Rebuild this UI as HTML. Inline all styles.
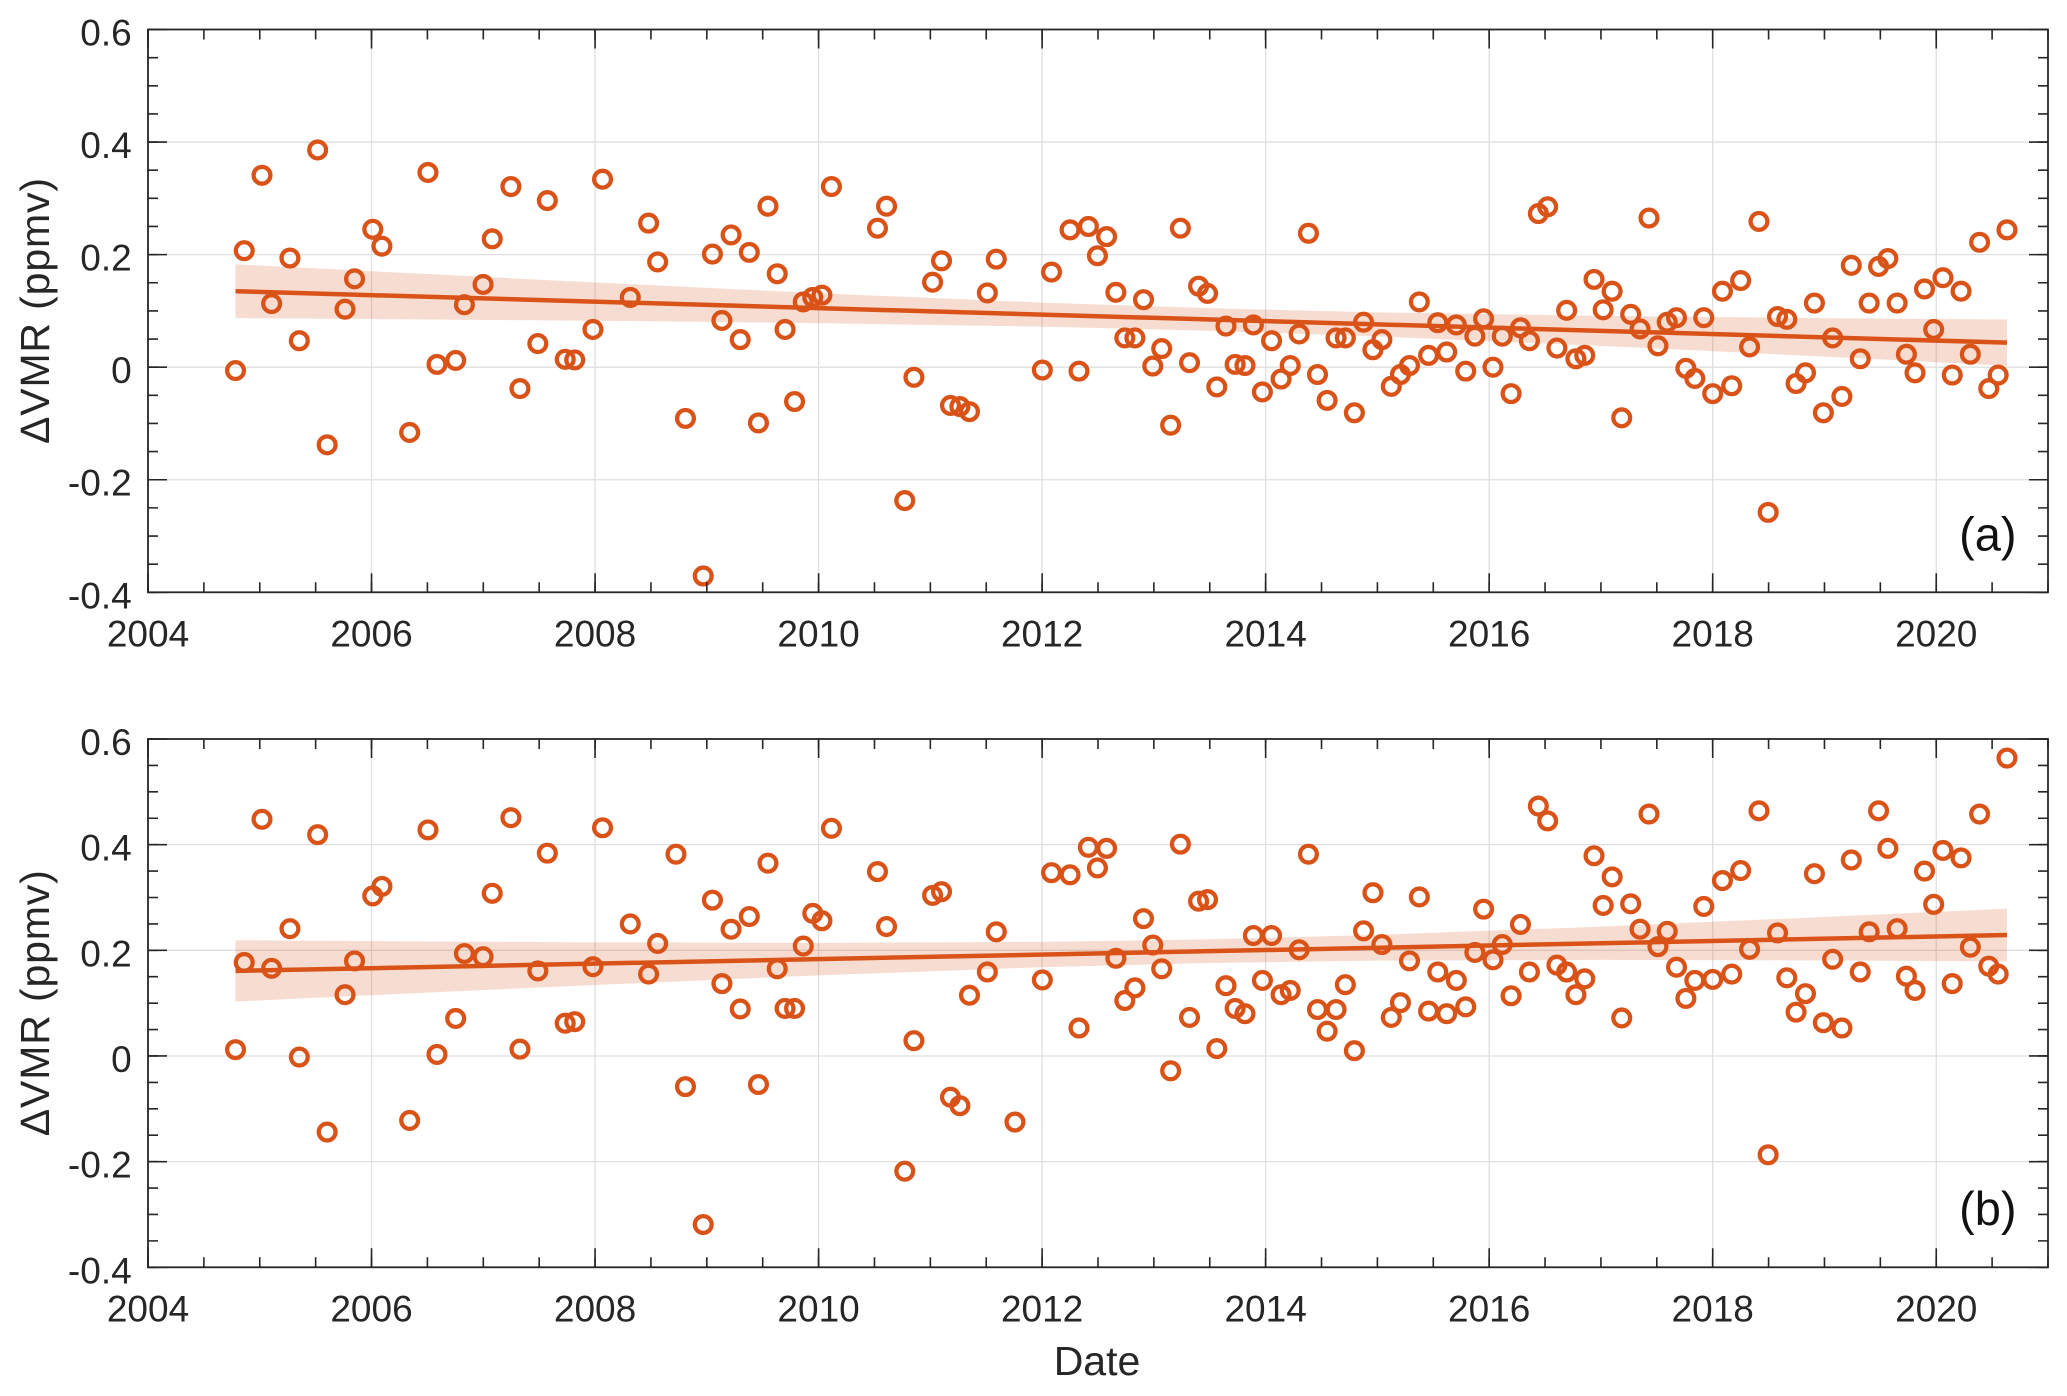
<!DOCTYPE html>
<html>
<head>
<meta charset="utf-8">
<style>
html,body{margin:0;padding:0;background:#fff;}
svg{display:block;}
text{font-family:"Liberation Sans",Arial,sans-serif;fill:#262626;}
</style>
</head>
<body>
<svg width="2067" height="1396" viewBox="0 0 2067 1396" xmlns="http://www.w3.org/2000/svg">
<rect x="0" y="0" width="2067" height="1396" fill="#fff"/>

<!-- ================= TOP PANEL ================= -->
<g stroke="#dfdfdf" stroke-width="1.3">
  <line x1="371.53" y1="29.5" x2="371.53" y2="592.3"/>
  <line x1="595.06" y1="29.5" x2="595.06" y2="592.3"/>
  <line x1="818.59" y1="29.5" x2="818.59" y2="592.3"/>
  <line x1="1042.12" y1="29.5" x2="1042.12" y2="592.3"/>
  <line x1="1265.65" y1="29.5" x2="1265.65" y2="592.3"/>
  <line x1="1489.18" y1="29.5" x2="1489.18" y2="592.3"/>
  <line x1="1712.71" y1="29.5" x2="1712.71" y2="592.3"/>
  <line x1="1936.24" y1="29.5" x2="1936.24" y2="592.3"/>
  <line x1="148" y1="142.06" x2="2048" y2="142.06"/>
  <line x1="148" y1="254.62" x2="2048" y2="254.62"/>
  <line x1="148" y1="367.18" x2="2048" y2="367.18"/>
  <line x1="148" y1="479.74" x2="2048" y2="479.74"/>
</g>

<polygon fill="#D95319" fill-opacity="0.2" points="235.51,264.22 371.53,271.24 595.06,282.52 818.59,293.21 1042.12,302.62 1207.53,308.18 1377.42,312.32 1600.95,315.85 1824.48,318.14 2006.98,319.55 2006.98,365.75 1824.48,356.55 1600.95,345.87 1377.42,336.41 1207.53,330.69 1042.12,326.63 818.59,323.07 595.06,320.76 371.53,319.06 235.51,318.18"/>
<line x1="235.51" y1="291.2" x2="2006.98" y2="342.65" stroke="#D95319" stroke-width="4.5"/>

<svg x="148" y="29.5" width="1117.65" height="562.8" overflow="visible">
<g fill="none" stroke="#D95319" stroke-width="4.3">
<circle r="8.4" cx="7.83%" cy="60.6%"/><circle r="8.4" cx="8.61%" cy="39.3%"/><circle r="8.4" cx="10.2%" cy="25.9%"/><circle r="8.4" cx="11.06%" cy="48.7%"/><circle r="8.4" cx="12.7%" cy="40.6%"/><circle r="8.4" cx="13.54%" cy="55.3%"/><circle r="8.4" cx="15.18%" cy="21.4%"/><circle r="8.4" cx="16.03%" cy="73.8%"/><circle r="8.4" cx="17.63%" cy="49.7%"/><circle r="8.4" cx="18.48%" cy="44.3%"/>
<circle r="8.4" cx="20.11%" cy="35.5%"/><circle r="8.4" cx="20.93%" cy="38.5%"/><circle r="8.4" cx="23.41%" cy="71.6%"/><circle r="8.4" cx="25.05%" cy="25.4%"/><circle r="8.4" cx="25.86%" cy="59.5%"/><circle r="8.4" cx="27.53%" cy="58.8%"/><circle r="8.4" cx="28.31%" cy="48.9%"/><circle r="8.4" cx="29.98%" cy="45.3%"/><circle r="8.4" cx="30.8%" cy="37.2%"/><circle r="8.4" cx="32.47%" cy="27.9%"/>
<circle r="8.4" cx="33.28%" cy="63.8%"/><circle r="8.4" cx="34.88%" cy="55.8%"/><circle r="8.4" cx="35.73%" cy="30.4%"/><circle r="8.4" cx="37.33%" cy="58.6%"/><circle r="8.4" cx="38.18%" cy="58.7%"/><circle r="8.4" cx="39.81%" cy="53.3%"/><circle r="8.4" cx="40.67%" cy="26.6%"/><circle r="8.4" cx="43.15%" cy="47.6%"/><circle r="8.4" cx="44.79%" cy="34.4%"/><circle r="8.4" cx="45.6%" cy="41.3%"/>
<circle r="8.4" cx="48.09%" cy="69.1%"/><circle r="8.4" cx="49.68%" cy="97.1%"/><circle r="8.4" cx="50.5%" cy="39.9%"/><circle r="8.4" cx="51.35%" cy="51.7%"/><circle r="8.4" cx="52.17%" cy="36.5%"/><circle r="8.4" cx="52.99%" cy="55.1%"/><circle r="8.4" cx="53.8%" cy="39.6%"/><circle r="8.4" cx="54.62%" cy="69.9%"/><circle r="8.4" cx="55.47%" cy="31.4%"/><circle r="8.4" cx="56.3%" cy="43.4%"/>
<circle r="8.4" cx="57.0%" cy="53.3%"/><circle r="8.4" cx="57.85%" cy="66.1%"/><circle r="8.4" cx="58.63%" cy="48.4%"/><circle r="8.4" cx="59.48%" cy="47.6%"/><circle r="8.4" cx="60.3%" cy="47.2%"/><circle r="8.4" cx="61.15%" cy="27.9%"/><circle r="8.4" cx="65.27%" cy="35.3%"/><circle r="8.4" cx="66.08%" cy="31.4%"/><circle r="8.4" cx="67.71%" cy="83.7%"/><circle r="8.4" cx="68.53%" cy="61.8%"/>
<circle r="8.4" cx="70.2%" cy="44.9%"/><circle r="8.4" cx="71.0%" cy="41.1%"/><circle r="8.4" cx="71.8%" cy="66.8%"/><circle r="8.4" cx="72.64%" cy="67.0%"/><circle r="8.4" cx="73.5%" cy="67.9%"/><circle r="8.4" cx="75.1%" cy="46.8%"/><circle r="8.4" cx="75.9%" cy="40.8%"/><circle r="8.4" cx="80.02%" cy="60.5%"/><circle r="8.4" cx="80.84%" cy="43.1%"/><circle r="8.4" cx="82.5%" cy="35.6%"/>
<circle r="8.4" cx="83.3%" cy="60.7%"/><circle r="8.4" cx="84.14%" cy="35.0%"/><circle r="8.4" cx="84.95%" cy="40.2%"/><circle r="8.4" cx="85.77%" cy="36.8%"/><circle r="8.4" cx="86.6%" cy="46.7%"/><circle r="8.4" cx="87.4%" cy="54.8%"/><circle r="8.4" cx="88.3%" cy="54.8%"/><circle r="8.4" cx="89.07%" cy="48.0%"/><circle r="8.4" cx="89.9%" cy="59.8%"/><circle r="8.4" cx="90.7%" cy="56.7%"/>
<circle r="8.4" cx="91.5%" cy="70.3%"/><circle r="8.4" cx="92.37%" cy="35.3%"/><circle r="8.4" cx="93.19%" cy="59.2%"/><circle r="8.4" cx="94.0%" cy="45.6%"/><circle r="8.4" cx="94.8%" cy="46.9%"/><circle r="8.4" cx="95.63%" cy="63.5%"/><circle r="8.4" cx="96.45%" cy="52.7%"/><circle r="8.4" cx="97.27%" cy="59.5%"/><circle r="8.4" cx="98.15%" cy="59.7%"/><circle r="8.4" cx="98.9%" cy="52.5%"/>
<circle r="8.4" cx="99.71%" cy="64.4%"/><circle r="8.4" cx="100.53%" cy="55.3%"/><circle r="8.4" cx="101.38%" cy="62.1%"/><circle r="8.4" cx="102.2%" cy="59.7%"/><circle r="8.4" cx="103.0%" cy="54.1%"/><circle r="8.4" cx="103.83%" cy="36.2%"/><circle r="8.4" cx="104.64%" cy="61.3%"/><circle r="8.4" cx="105.5%" cy="65.9%"/><circle r="8.4" cx="106.3%" cy="54.8%"/><circle r="8.4" cx="107.13%" cy="54.8%"/>
<circle r="8.4" cx="107.94%" cy="68.1%"/><circle r="8.4" cx="108.76%" cy="52.0%"/><circle r="8.4" cx="109.6%" cy="56.9%"/><circle r="8.4" cx="110.4%" cy="55.1%"/><circle r="8.4" cx="111.24%" cy="63.4%"/><circle r="8.4" cx="112.06%" cy="61.3%"/><circle r="8.4" cx="112.87%" cy="59.7%"/><circle r="8.4" cx="113.75%" cy="48.4%"/><circle r="8.4" cx="114.58%" cy="57.9%"/><circle r="8.4" cx="115.4%" cy="52.1%"/>
<circle r="8.4" cx="116.2%" cy="57.3%"/><circle r="8.4" cx="117.06%" cy="52.5%"/><circle r="8.4" cx="117.9%" cy="60.7%"/><circle r="8.4" cx="118.72%" cy="54.5%"/><circle r="8.4" cx="119.5%" cy="51.4%"/><circle r="8.4" cx="120.34%" cy="60.0%"/><circle r="8.4" cx="121.17%" cy="54.5%"/><circle r="8.4" cx="121.96%" cy="64.7%"/><circle r="8.4" cx="122.8%" cy="53.0%"/><circle r="8.4" cx="123.6%" cy="55.3%"/>
<circle r="8.4" cx="124.4%" cy="32.7%"/><circle r="8.4" cx="125.23%" cy="31.5%"/><circle r="8.4" cx="126.06%" cy="56.6%"/><circle r="8.4" cx="126.93%" cy="49.9%"/><circle r="8.4" cx="127.76%" cy="58.5%"/><circle r="8.4" cx="128.55%" cy="57.9%"/><circle r="8.4" cx="129.38%" cy="44.4%"/><circle r="8.4" cx="130.2%" cy="49.8%"/><circle r="8.4" cx="131.0%" cy="46.5%"/><circle r="8.4" cx="131.86%" cy="69.0%"/>
<circle r="8.4" cx="132.66%" cy="50.6%"/><circle r="8.4" cx="133.5%" cy="53.2%"/><circle r="8.4" cx="134.3%" cy="33.5%"/><circle r="8.4" cx="135.1%" cy="56.2%"/><circle r="8.4" cx="135.93%" cy="52.0%"/><circle r="8.4" cx="136.76%" cy="51.2%"/><circle r="8.4" cx="137.6%" cy="60.2%"/><circle r="8.4" cx="138.4%" cy="62.0%"/><circle r="8.4" cx="139.2%" cy="51.2%"/><circle r="8.4" cx="140.0%" cy="64.7%"/>
<circle r="8.4" cx="140.87%" cy="46.5%"/><circle r="8.4" cx="141.7%" cy="63.3%"/><circle r="8.4" cx="142.5%" cy="44.6%"/><circle r="8.4" cx="143.3%" cy="56.4%"/><circle r="8.4" cx="144.14%" cy="34.1%"/><circle r="8.4" cx="144.96%" cy="85.8%"/><circle r="8.4" cx="145.8%" cy="51.0%"/><circle r="8.4" cx="146.63%" cy="51.5%"/><circle r="8.4" cx="147.46%" cy="62.9%"/><circle r="8.4" cx="148.3%" cy="61.0%"/>
<circle r="8.4" cx="149.1%" cy="48.6%"/><circle r="8.4" cx="149.9%" cy="68.1%"/><circle r="8.4" cx="150.73%" cy="54.8%"/><circle r="8.4" cx="151.56%" cy="65.2%"/><circle r="8.4" cx="152.4%" cy="41.9%"/><circle r="8.4" cx="153.2%" cy="58.5%"/><circle r="8.4" cx="154.0%" cy="48.6%"/><circle r="8.4" cx="154.84%" cy="42.1%"/><circle r="8.4" cx="155.67%" cy="40.7%"/><circle r="8.4" cx="156.5%" cy="48.6%"/>
<circle r="8.4" cx="157.33%" cy="57.7%"/><circle r="8.4" cx="158.1%" cy="61.0%"/><circle r="8.4" cx="158.95%" cy="46.1%"/><circle r="8.4" cx="159.77%" cy="53.3%"/><circle r="8.4" cx="160.6%" cy="44.1%"/><circle r="8.4" cx="161.43%" cy="61.4%"/><circle r="8.4" cx="162.22%" cy="46.5%"/><circle r="8.4" cx="163.05%" cy="57.7%"/><circle r="8.4" cx="163.88%" cy="37.8%"/><circle r="8.4" cx="164.7%" cy="63.8%"/>
<circle r="8.4" cx="165.54%" cy="61.4%"/><circle r="8.4" cx="166.33%" cy="35.6%"/>
</g>
</svg>

<!-- top axes box & ticks -->
<g stroke="#262626" fill="none">
  <rect x="148" y="29.5" width="1900" height="562.8" stroke-width="1.8"/>
  <line x1="147.2" y1="587.3" x2="2049" y2="587.3" stroke-width="10" stroke-dasharray="1.6 54.282"/>
  <line x1="147.2" y1="582.8" x2="2049" y2="582.8" stroke-width="19" stroke-dasharray="1.6 221.93"/>
  <line x1="147.2" y1="34.5" x2="2049" y2="34.5" stroke-width="10" stroke-dasharray="1.6 54.282"/>
  <line x1="147.2" y1="39" x2="2049" y2="39" stroke-width="19" stroke-dasharray="1.6 221.93"/>
  <line x1="153" y1="28.7" x2="153" y2="594" stroke-width="10" stroke-dasharray="1.6 26.54"/>
  <line x1="157.5" y1="28.7" x2="157.5" y2="594" stroke-width="19" stroke-dasharray="1.6 110.96"/>
  <line x1="2043" y1="28.7" x2="2043" y2="594" stroke-width="10" stroke-dasharray="1.6 26.54"/>
  <line x1="2038.5" y1="28.7" x2="2038.5" y2="594" stroke-width="19" stroke-dasharray="1.6 110.96"/>
</g>

<g font-size="37" text-anchor="end">
  <text x="131.7" y="45.5">0.6</text>
  <text x="131.7" y="158.06">0.4</text>
  <text x="131.7" y="270.62">0.2</text>
  <text x="131.7" y="383.18">0</text>
  <text x="131.7" y="495.74">-0.2</text>
  <text x="131.7" y="608.3">-0.4</text>
</g>
<g font-size="37" text-anchor="middle">
  <text x="148" y="646.6">2004</text>
  <text x="371.53" y="646.6">2006</text>
  <text x="595.06" y="646.6">2008</text>
  <text x="818.59" y="646.6">2010</text>
  <text x="1042.12" y="646.6">2012</text>
  <text x="1265.65" y="646.6">2014</text>
  <text x="1489.18" y="646.6">2016</text>
  <text x="1712.71" y="646.6">2018</text>
  <text x="1936.24" y="646.6">2020</text>
</g>
<text x="49" y="311" font-size="41" text-anchor="middle" textLength="266" lengthAdjust="spacing" transform="rotate(-90 49 311)">ΔVMR (ppmv)</text>
<text x="2016.6" y="550.5" font-size="47" text-anchor="end" style="fill:#111">(a)</text>

<!-- ================= BOTTOM PANEL ================= -->
<g stroke="#dfdfdf" stroke-width="1.3">
  <line x1="371.53" y1="739" x2="371.53" y2="1267.3"/>
  <line x1="595.06" y1="739" x2="595.06" y2="1267.3"/>
  <line x1="818.59" y1="739" x2="818.59" y2="1267.3"/>
  <line x1="1042.12" y1="739" x2="1042.12" y2="1267.3"/>
  <line x1="1265.65" y1="739" x2="1265.65" y2="1267.3"/>
  <line x1="1489.18" y1="739" x2="1489.18" y2="1267.3"/>
  <line x1="1712.71" y1="739" x2="1712.71" y2="1267.3"/>
  <line x1="1936.24" y1="739" x2="1936.24" y2="1267.3"/>
  <line x1="148" y1="844.66" x2="2048" y2="844.66"/>
  <line x1="148" y1="950.32" x2="2048" y2="950.32"/>
  <line x1="148" y1="1055.98" x2="2048" y2="1055.98"/>
  <line x1="148" y1="1161.64" x2="2048" y2="1161.64"/>
</g>

<polygon fill="#D95319" fill-opacity="0.2" points="235.51,940.28 371.53,941.15 595.06,942.32 818.59,942.82 1042.12,941.87 1200.83,939.54 1377.42,934.87 1600.95,926.59 1824.48,916.95 2006.98,908.59 2006.98,961.40 1824.48,960.46 1600.95,959.88 1377.42,960.67 1200.83,963.16 1042.12,967.26 818.59,975.38 595.06,984.95 371.53,995.18 235.51,1001.57"/>
<line x1="235.51" y1="970.92" x2="2006.98" y2="935.0" stroke="#D95319" stroke-width="4.5"/>

<svg x="148" y="739" width="1117.65" height="528.3" overflow="visible">
<g fill="none" stroke="#D95319" stroke-width="4.3">
<circle r="8.4" cx="7.83%" cy="58.8%"/><circle r="8.4" cx="8.61%" cy="42.3%"/><circle r="8.4" cx="10.2%" cy="15.2%"/><circle r="8.4" cx="11.06%" cy="43.4%"/><circle r="8.4" cx="12.7%" cy="35.9%"/><circle r="8.4" cx="13.54%" cy="60.2%"/><circle r="8.4" cx="15.18%" cy="18.1%"/><circle r="8.4" cx="16.03%" cy="74.4%"/><circle r="8.4" cx="17.63%" cy="48.4%"/><circle r="8.4" cx="18.48%" cy="42.0%"/>
<circle r="8.4" cx="20.11%" cy="29.7%"/><circle r="8.4" cx="20.93%" cy="27.9%"/><circle r="8.4" cx="23.41%" cy="72.2%"/><circle r="8.4" cx="25.05%" cy="17.2%"/><circle r="8.4" cx="25.86%" cy="59.7%"/><circle r="8.4" cx="27.53%" cy="52.9%"/><circle r="8.4" cx="28.31%" cy="40.6%"/><circle r="8.4" cx="29.98%" cy="41.2%"/><circle r="8.4" cx="30.8%" cy="29.2%"/><circle r="8.4" cx="32.47%" cy="14.9%"/>
<circle r="8.4" cx="33.28%" cy="58.7%"/><circle r="8.4" cx="34.88%" cy="43.9%"/><circle r="8.4" cx="35.73%" cy="21.6%"/><circle r="8.4" cx="37.33%" cy="53.8%"/><circle r="8.4" cx="38.18%" cy="53.5%"/><circle r="8.4" cx="39.81%" cy="43.1%"/><circle r="8.4" cx="40.67%" cy="16.8%"/><circle r="8.4" cx="43.15%" cy="35.0%"/><circle r="8.4" cx="44.79%" cy="44.5%"/><circle r="8.4" cx="45.6%" cy="38.7%"/>
<circle r="8.4" cx="47.24%" cy="21.8%"/><circle r="8.4" cx="48.09%" cy="65.8%"/><circle r="8.4" cx="49.68%" cy="91.9%"/><circle r="8.4" cx="50.5%" cy="30.5%"/><circle r="8.4" cx="51.35%" cy="46.3%"/><circle r="8.4" cx="52.17%" cy="36.0%"/><circle r="8.4" cx="52.99%" cy="51.1%"/><circle r="8.4" cx="53.8%" cy="33.6%"/><circle r="8.4" cx="54.62%" cy="65.4%"/><circle r="8.4" cx="55.47%" cy="23.5%"/>
<circle r="8.4" cx="56.3%" cy="43.5%"/><circle r="8.4" cx="57.0%" cy="51.0%"/><circle r="8.4" cx="57.85%" cy="51.0%"/><circle r="8.4" cx="58.63%" cy="39.2%"/><circle r="8.4" cx="59.48%" cy="33.0%"/><circle r="8.4" cx="60.3%" cy="34.4%"/><circle r="8.4" cx="61.15%" cy="16.9%"/><circle r="8.4" cx="65.27%" cy="25.1%"/><circle r="8.4" cx="66.08%" cy="35.5%"/><circle r="8.4" cx="67.71%" cy="81.8%"/>
<circle r="8.4" cx="68.53%" cy="57.1%"/><circle r="8.4" cx="70.2%" cy="29.6%"/><circle r="8.4" cx="71.0%" cy="28.9%"/><circle r="8.4" cx="71.8%" cy="67.8%"/><circle r="8.4" cx="72.64%" cy="69.4%"/><circle r="8.4" cx="73.5%" cy="48.5%"/><circle r="8.4" cx="75.1%" cy="44.1%"/><circle r="8.4" cx="75.9%" cy="36.5%"/><circle r="8.4" cx="77.57%" cy="72.5%"/><circle r="8.4" cx="80.02%" cy="45.6%"/>
<circle r="8.4" cx="80.84%" cy="25.3%"/><circle r="8.4" cx="82.5%" cy="25.7%"/><circle r="8.4" cx="83.3%" cy="54.7%"/><circle r="8.4" cx="84.14%" cy="20.5%"/><circle r="8.4" cx="84.95%" cy="24.4%"/><circle r="8.4" cx="85.77%" cy="20.7%"/><circle r="8.4" cx="86.6%" cy="41.5%"/><circle r="8.4" cx="87.4%" cy="49.5%"/><circle r="8.4" cx="88.3%" cy="47.1%"/><circle r="8.4" cx="89.07%" cy="34.0%"/>
<circle r="8.4" cx="89.9%" cy="39.0%"/><circle r="8.4" cx="90.7%" cy="43.5%"/><circle r="8.4" cx="91.5%" cy="62.8%"/><circle r="8.4" cx="92.37%" cy="19.9%"/><circle r="8.4" cx="93.19%" cy="52.7%"/><circle r="8.4" cx="94.0%" cy="30.7%"/><circle r="8.4" cx="94.8%" cy="30.4%"/><circle r="8.4" cx="95.63%" cy="58.6%"/><circle r="8.4" cx="96.45%" cy="46.7%"/><circle r="8.4" cx="97.27%" cy="51.0%"/>
<circle r="8.4" cx="98.15%" cy="52.0%"/><circle r="8.4" cx="98.9%" cy="37.2%"/><circle r="8.4" cx="99.71%" cy="45.7%"/><circle r="8.4" cx="100.53%" cy="37.2%"/><circle r="8.4" cx="101.38%" cy="48.4%"/><circle r="8.4" cx="102.2%" cy="47.6%"/><circle r="8.4" cx="103.0%" cy="39.9%"/><circle r="8.4" cx="103.83%" cy="21.8%"/><circle r="8.4" cx="104.64%" cy="51.2%"/><circle r="8.4" cx="105.5%" cy="55.3%"/>
<circle r="8.4" cx="106.3%" cy="51.2%"/><circle r="8.4" cx="107.13%" cy="46.5%"/><circle r="8.4" cx="107.94%" cy="59.0%"/><circle r="8.4" cx="108.76%" cy="36.3%"/><circle r="8.4" cx="109.6%" cy="29.1%"/><circle r="8.4" cx="110.4%" cy="38.9%"/><circle r="8.4" cx="111.24%" cy="52.7%"/><circle r="8.4" cx="112.06%" cy="49.9%"/><circle r="8.4" cx="112.87%" cy="42.0%"/><circle r="8.4" cx="113.75%" cy="29.9%"/>
<circle r="8.4" cx="114.58%" cy="51.5%"/><circle r="8.4" cx="115.4%" cy="44.1%"/><circle r="8.4" cx="116.2%" cy="52.0%"/><circle r="8.4" cx="117.06%" cy="45.7%"/><circle r="8.4" cx="117.9%" cy="50.7%"/><circle r="8.4" cx="118.72%" cy="40.4%"/><circle r="8.4" cx="119.5%" cy="32.2%"/><circle r="8.4" cx="120.34%" cy="41.8%"/><circle r="8.4" cx="121.17%" cy="38.9%"/><circle r="8.4" cx="121.96%" cy="48.6%"/>
<circle r="8.4" cx="122.8%" cy="35.1%"/><circle r="8.4" cx="123.6%" cy="44.1%"/><circle r="8.4" cx="124.4%" cy="12.7%"/><circle r="8.4" cx="125.23%" cy="15.5%"/><circle r="8.4" cx="126.06%" cy="42.8%"/><circle r="8.4" cx="126.93%" cy="44.1%"/><circle r="8.4" cx="127.76%" cy="48.4%"/><circle r="8.4" cx="128.55%" cy="45.4%"/><circle r="8.4" cx="129.38%" cy="22.1%"/><circle r="8.4" cx="130.2%" cy="31.5%"/>
<circle r="8.4" cx="131.0%" cy="26.1%"/><circle r="8.4" cx="131.86%" cy="52.8%"/><circle r="8.4" cx="132.66%" cy="31.2%"/><circle r="8.4" cx="133.5%" cy="36.0%"/><circle r="8.4" cx="134.3%" cy="14.2%"/><circle r="8.4" cx="135.1%" cy="39.3%"/><circle r="8.4" cx="135.93%" cy="36.4%"/><circle r="8.4" cx="136.76%" cy="43.2%"/><circle r="8.4" cx="137.6%" cy="49.1%"/><circle r="8.4" cx="138.4%" cy="45.7%"/>
<circle r="8.4" cx="139.2%" cy="31.7%"/><circle r="8.4" cx="140.0%" cy="45.5%"/><circle r="8.4" cx="140.87%" cy="26.8%"/><circle r="8.4" cx="141.7%" cy="44.5%"/><circle r="8.4" cx="142.5%" cy="24.9%"/><circle r="8.4" cx="143.3%" cy="39.8%"/><circle r="8.4" cx="144.14%" cy="13.6%"/><circle r="8.4" cx="144.96%" cy="78.7%"/><circle r="8.4" cx="145.8%" cy="36.7%"/><circle r="8.4" cx="146.63%" cy="45.2%"/>
<circle r="8.4" cx="147.46%" cy="51.7%"/><circle r="8.4" cx="148.3%" cy="48.2%"/><circle r="8.4" cx="149.1%" cy="25.5%"/><circle r="8.4" cx="149.9%" cy="53.7%"/><circle r="8.4" cx="150.73%" cy="41.7%"/><circle r="8.4" cx="151.56%" cy="54.7%"/><circle r="8.4" cx="152.4%" cy="22.9%"/><circle r="8.4" cx="153.2%" cy="44.1%"/><circle r="8.4" cx="154.0%" cy="36.5%"/><circle r="8.4" cx="154.84%" cy="13.6%"/>
<circle r="8.4" cx="155.67%" cy="20.7%"/><circle r="8.4" cx="156.5%" cy="35.9%"/><circle r="8.4" cx="157.33%" cy="44.9%"/><circle r="8.4" cx="158.1%" cy="47.6%"/><circle r="8.4" cx="158.95%" cy="25.0%"/><circle r="8.4" cx="159.77%" cy="31.3%"/><circle r="8.4" cx="160.6%" cy="21.1%"/><circle r="8.4" cx="161.43%" cy="46.3%"/><circle r="8.4" cx="162.22%" cy="22.5%"/><circle r="8.4" cx="163.05%" cy="39.4%"/>
<circle r="8.4" cx="163.88%" cy="14.2%"/><circle r="8.4" cx="164.7%" cy="43.0%"/><circle r="8.4" cx="165.54%" cy="44.5%"/><circle r="8.4" cx="166.33%" cy="3.6%"/>
</g>
</svg>

<!-- bottom axes box & ticks -->
<g stroke="#262626" fill="none">
  <rect x="148" y="739" width="1900" height="528.3" stroke-width="1.8"/>
  <line x1="147.2" y1="1262.3" x2="2049" y2="1262.3" stroke-width="10" stroke-dasharray="1.6 54.282"/>
  <line x1="147.2" y1="1257.8" x2="2049" y2="1257.8" stroke-width="19" stroke-dasharray="1.6 221.93"/>
  <line x1="147.2" y1="744" x2="2049" y2="744" stroke-width="10" stroke-dasharray="1.6 54.282"/>
  <line x1="147.2" y1="748.5" x2="2049" y2="748.5" stroke-width="19" stroke-dasharray="1.6 221.93"/>
  <line x1="153" y1="738.2" x2="153" y2="1269" stroke-width="10" stroke-dasharray="1.6 24.815"/>
  <line x1="157.5" y1="738.2" x2="157.5" y2="1269" stroke-width="19" stroke-dasharray="1.6 104.06"/>
  <line x1="2043" y1="738.2" x2="2043" y2="1269" stroke-width="10" stroke-dasharray="1.6 24.815"/>
  <line x1="2038.5" y1="738.2" x2="2038.5" y2="1269" stroke-width="19" stroke-dasharray="1.6 104.06"/>
</g>

<g font-size="37" text-anchor="end">
  <text x="131.7" y="755">0.6</text>
  <text x="131.7" y="860.66">0.4</text>
  <text x="131.7" y="966.32">0.2</text>
  <text x="131.7" y="1071.98">0</text>
  <text x="131.7" y="1177.64">-0.2</text>
  <text x="131.7" y="1283.3">-0.4</text>
</g>
<g font-size="37" text-anchor="middle">
  <text x="148" y="1321.7">2004</text>
  <text x="371.53" y="1321.7">2006</text>
  <text x="595.06" y="1321.7">2008</text>
  <text x="818.59" y="1321.7">2010</text>
  <text x="1042.12" y="1321.7">2012</text>
  <text x="1265.65" y="1321.7">2014</text>
  <text x="1489.18" y="1321.7">2016</text>
  <text x="1712.71" y="1321.7">2018</text>
  <text x="1936.24" y="1321.7">2020</text>
</g>
<text x="49" y="1003.2" font-size="41" text-anchor="middle" textLength="266" lengthAdjust="spacing" transform="rotate(-90 49 1003.2)">ΔVMR (ppmv)</text>
<text x="2016.6" y="1225" font-size="47" text-anchor="end" style="fill:#111">(b)</text>

<text x="1097" y="1375" font-size="41" text-anchor="middle">Date</text>
</svg>
</body>
</html>
